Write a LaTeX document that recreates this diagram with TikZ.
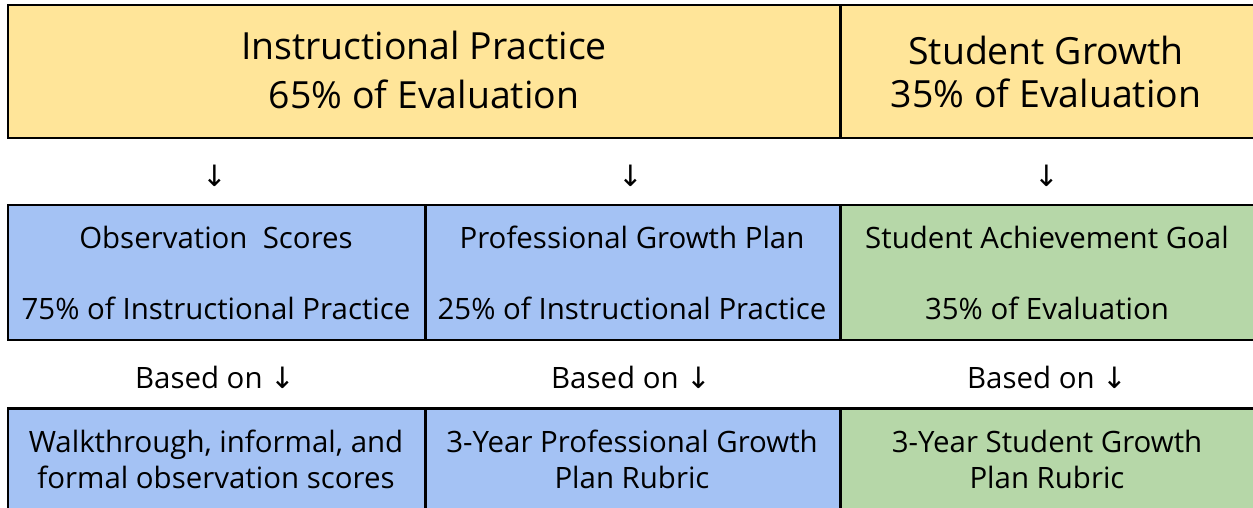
\documentclass[tikz,border=0pt]{standalone}
\usepackage{fontspec}
\setmainfont{Open Sans}
\newfontfamily\arrowfont{DejaVu Sans}
\usetikzlibrary{positioning}

\definecolor{headyellow}{HTML}{FFE599}
\definecolor{cellblue}{HTML}{A4C2F4}
\definecolor{cellgreen}{HTML}{B6D7A8}

\newcommand{\dnarrow}{{\arrowfont\symbol{"2193}}}

\begin{document}
\begin{tikzpicture}[x=0.02cm,y=-0.02cm,line width=1.7pt,
    head/.style={align=center,font=\fontsize{21.3}{28}\selectfont},
    cell/.style={align=center,font=\fontsize{16.75}{20.5}\selectfont},
    note/.style={font=\fontsize{16.75}{20.5}\selectfont}]
    \useasboundingbox (0,0) rectangle (1253,507);
    \clip (0,0) rectangle (1253,507);

    % top row
    \fill[headyellow] (8,5) rectangle (1256,138);
    \draw (8,5) rectangle (1256,138);
    \draw (840,5) -- (840,138);

    % middle row
    \fill[cellblue] (8,205) rectangle (840,340);
    \fill[cellgreen] (840,205) rectangle (1256,340);
    \draw (8,205) rectangle (1256,340);
    \foreach \x in {425,840}
    \draw (\x,205) -- (\x,340);

    % bottom row
    \fill[cellblue] (8,408) rectangle (840,512);
    \fill[cellgreen] (840,408) rectangle (1256,512);
    \draw (8,408) rectangle (1256,512);
    \foreach \x in {425,840}
    \draw (\x,408) -- (\x,512);

    \node[head] (practice) at (424,70) {Instructional Practice\\65\% of Evaluation};
    \node[head] (growth) at (1046,72) {Student Growth\\[-3pt]35\% of Evaluation};

    \node[note] (arrA) at (215,176) {\dnarrow};
    \node[note] (arrB) at (631,176) {\dnarrow};
    \node[note] (arrC) at (1047,176) {\dnarrow};

    \node[cell] (observe) at (216,273) {Observation\ \ Scores\\[19.5pt]75\% of Instructional Practice};
    \node[cell] (plan) at (632,273) {Professional Growth Plan\\[19.5pt]25\% of Instructional Practice};
    \node[cell] (goal) at (1047,273) {Student Achievement Goal\\[19.5pt]35\% of Evaluation};

    \node[note] (basedA) at (215,377) {Based on \dnarrow};
    \node[note] (basedB) at (631,377) {Based on \dnarrow};
    \node[note] (basedC) at (1047,377) {Based on \dnarrow};

    \node[cell] (walk) at (216,459) {Walkthrough, informal, and\\formal observation scores};
    \node[cell] (planrubric) at (632,459) {3-Year Professional Growth\\Plan Rubric};
    \node[cell] (goalrubric) at (1047,459) {3-Year Student Growth\\Plan Rubric};
  \end{tikzpicture}
\end{document}
